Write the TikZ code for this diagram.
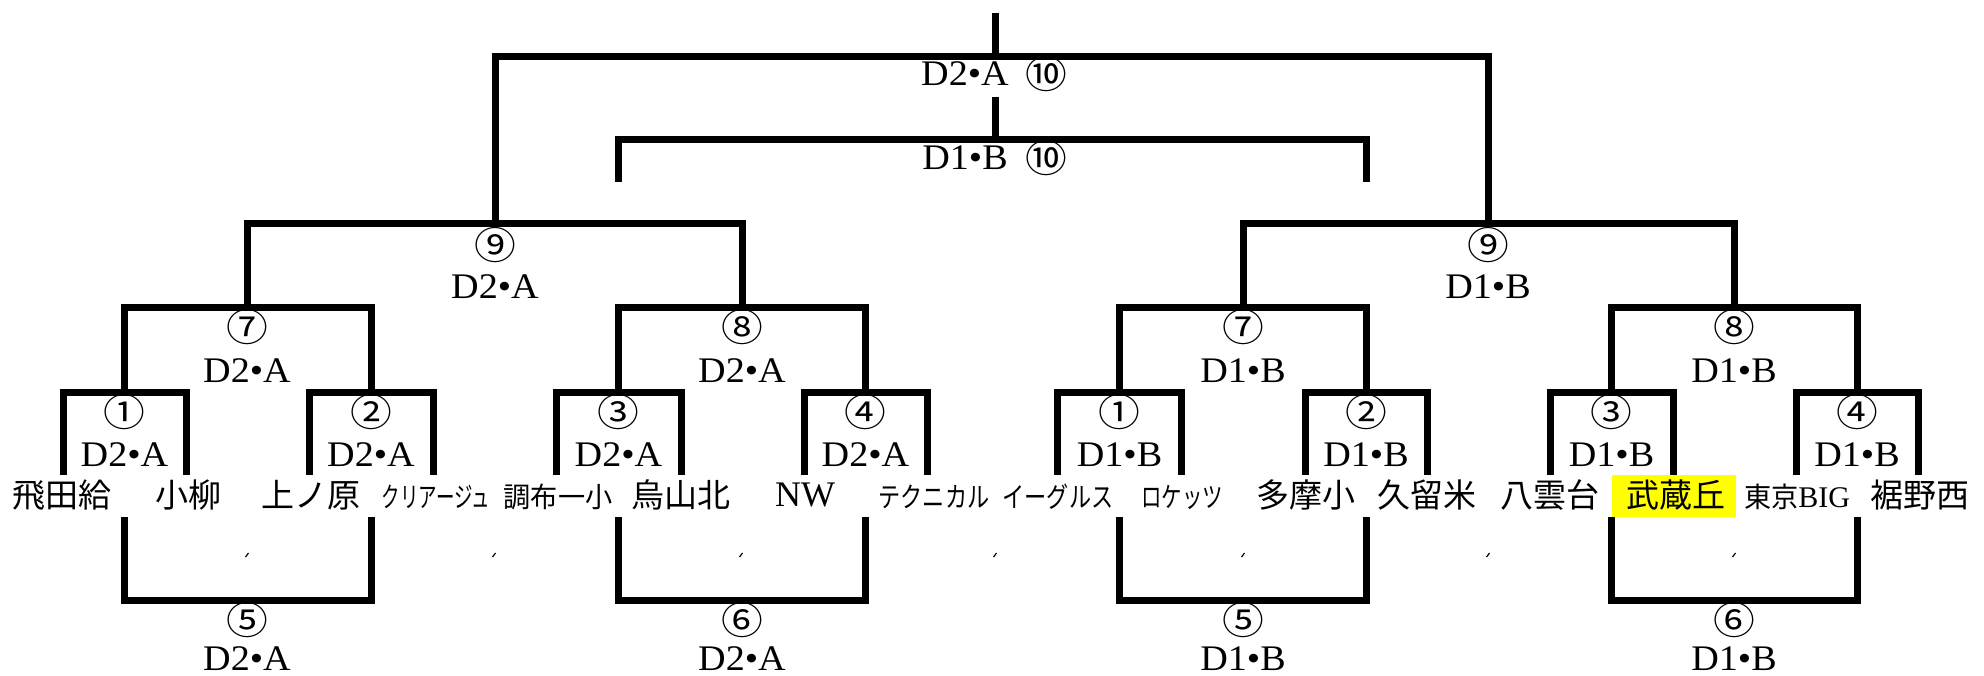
\documentclass[tikz,border=0pt]{standalone}
\usepackage{fontspec}
\usepackage{graphicx}
\setmainfont{Liberation Serif}
\newfontfamily\cjk{Noto Sans CJK JP}
\definecolor{hlyellow}{RGB}{255,255,0}
\newcommand\lab[1]{\scalebox{1.06}[1]{\fontsize{36}{36}\selectfont #1}}
\newcommand\cnum[1]{\scalebox{1.1}[1]{\cjk\fontsize{38}{38}\selectfont #1}}
\newcommand\team[1]{{\cjk\fontsize{33}{33}\selectfont #1}}
\newcommand\steam[2]{\scalebox{#1}[1]{\cjk\fontsize{28}{28}\selectfont #2}}
\begin{document}
\begin{tikzpicture}[x=1pt,y=-1pt,
  bline/.style={line width=7pt,line join=miter},
  tickmark/.style={line width=1.2pt},
  txt/.style={inner sep=0pt,outer sep=0pt,anchor=center}]
\useasboundingbox (0,0) rectangle (1984,676);
% leaves (bottom ends of first-round brackets)
\foreach \n/\x in {1/63,2/186,3/309,4/433,5/556,6/681,7/804,8/927}
  \coordinate (la\n) at (\x,475);
\foreach \n/\x in {1/1057,2/1181,3/1305,4/1427,5/1550,6/1673,7/1796,8/1918}
  \coordinate (lb\n) at (\x,475);
% first-round junctions
\foreach \n/\x in {1/124.5,2/371,3/618.5,4/865.5}
  {\coordinate (ra\n) at (\x,392); \coordinate (ua\n) at (\x,517);}
\foreach \n/\x in {1/1119.5,2/1366,3/1611.5,4/1857}
  {\coordinate (rb\n) at (\x,392); \coordinate (ub\n) at (\x,517);}
% quarter junctions
\coordinate (qa1) at (247,308); \coordinate (qa2) at (742,308);
\coordinate (qb1) at (1243,308); \coordinate (qb2) at (1734,308);
% lower brackets junctions
\coordinate (ca1) at (247,600); \coordinate (ca2) at (742,600);
\coordinate (cb1) at (1243,600); \coordinate (cb2) at (1734,600);
% semi / final
\coordinate (sa) at (495,224); \coordinate (sb) at (1488,224);
\coordinate (fa) at (995,57); \coordinate (top) at (995,13);
\coordinate (fb) at (995,140); \coordinate (fbt) at (995,97);
\coordinate (fbl) at (618.5,182); \coordinate (fbr) at (1366,182);

% first round
\foreach \m/\l/\r in {1/1/2,2/3/4,3/5/6,4/7/8}{
  \draw[bline] (la\l) |- (ra\m) -| (la\r);
  \draw[bline] (lb\l) |- (rb\m) -| (lb\r);}
% second round
\draw[bline] (ra1) |- (qa1) -| (ra2);
\draw[bline] (ra3) |- (qa2) -| (ra4);
\draw[bline] (rb1) |- (qb1) -| (rb2);
\draw[bline] (rb3) |- (qb2) -| (rb4);
% lower brackets
\draw[bline] (ua1) |- (ca1) -| (ua2);
\draw[bline] (ua3) |- (ca2) -| (ua4);
\draw[bline] (ub1) |- (cb1) -| (ub2);
\draw[bline] (ub3) |- (cb2) -| (ub4);
% semi-finals
\draw[bline] (qa1) |- (sa) -| (qa2);
\draw[bline] (qb1) |- (sb) -| (qb2);
% finals
\draw[bline] (sa) |- (fa) -| (sb);
\draw[bline] (top) -- (fa);
\draw[bline] (fbl) |- (fb) -| (fbr);
\draw[bline] (fbt) -- (fb);

% final labels
\node[txt] (lfa) at (965,74) {\lab{D2•A}};
\node[txt] (nfa) at (1046.5,74) {\cnum{⑩}};
\node[txt] (lfb) at (965,158) {\lab{D1•B}};
\node[txt] (nfb) at (1046.5,158) {\cnum{⑩}};
% semi labels
\node[txt] (nsa) at (495,245) {\cnum{⑨}};
\node[txt] (lsa) at (495,287) {\lab{D2•A}};
\node[txt] (nsb) at (1488,245) {\cnum{⑨}};
\node[txt] (lsb) at (1488,287) {\lab{D1•B}};
% quarter labels
\node[txt] (nqa1) at (247,327) {\cnum{⑦}};
\node[txt] (lqa1) at (247,371) {\lab{D2•A}};
\node[txt] (nqa2) at (742,327) {\cnum{⑧}};
\node[txt] (lqa2) at (742,371) {\lab{D2•A}};
\node[txt] (nqb1) at (1243,327) {\cnum{⑦}};
\node[txt] (lqb1) at (1243,371) {\lab{D1•B}};
\node[txt] (nqb2) at (1734,327) {\cnum{⑧}};
\node[txt] (lqb2) at (1734,371) {\lab{D1•B}};
% first round labels
\foreach \n/\c in {1/①,2/②,3/③,4/④}{
  \node[txt] (nra\n) at ([yshift=-20pt]ra\n) {\cnum{\c}};
  \node[txt] (lra\n) at ([yshift=-63pt]ra\n) {\lab{D2•A}};
  \node[txt] (nrb\n) at ([yshift=-20pt]rb\n) {\cnum{\c}};
  \node[txt] (lrb\n) at ([yshift=-63pt]rb\n) {\lab{D1•B}};}
% lower labels
\node[txt] (nca1) at (247,620) {\cnum{⑤}};
\node[txt] (lca1) at (247,659) {\lab{D2•A}};
\node[txt] (nca2) at (742,620) {\cnum{⑥}};
\node[txt] (lca2) at (742,659) {\lab{D2•A}};
\node[txt] (ncb1) at (1243,620) {\cnum{⑤}};
\node[txt] (lcb1) at (1243,659) {\lab{D1•B}};
\node[txt] (ncb2) at (1734,620) {\cnum{⑥}};
\node[txt] (lcb2) at (1734,659) {\lab{D1•B}};

% highlight
\fill[hlyellow] (1612,475) rectangle (1736,517);
% team names
\node[txt] (t1) at (62,495) {\team{飛田給}};
\node[txt] (t2) at (188,495) {\team{小柳}};
\node[txt] (t3) at (311,495) {\team{上ノ原}};
\node[txt] (t4) at (436,497) {\steam{0.66}{クリアージュ}};
\node[txt] (t5) at (558,497) {\steam{0.97}{調布一小}};
\node[txt] (t6) at (681,495) {\team{烏山北}};
\node[txt] (t7) at (805,495) {{\fontsize{36}{36}\selectfont NW}};
\node[txt] (t8) at (934,497) {\steam{0.79}{テクニカル}};
\node[txt] (t9) at (1058,497) {\steam{0.79}{イーグルス}};
\node[txt] (t10) at (1182,497) {\steam{0.73}{ロケッツ}};
\node[txt] (t11) at (1306,495) {\team{多摩小}};
\node[txt] (t12) at (1427,495) {\team{久留米}};
\node[txt] (t13) at (1550,495) {\team{八雲台}};
\node[txt] (t14) at (1676,495) {\team{武蔵丘}};
\node[txt] (t15) at (1797,497) {\steam{0.97}{東京}{\fontsize{30}{30}\selectfont BIG}};
\node[txt] (t16) at (1920,495) {\team{裾野西}};

% tiny marks
\foreach \x in {247,494,741,995,1243,1488,1734}
  \draw[tickmark] (\x-1.5,557) -- (\x+1.5,553);
\end{tikzpicture}
\end{document}
